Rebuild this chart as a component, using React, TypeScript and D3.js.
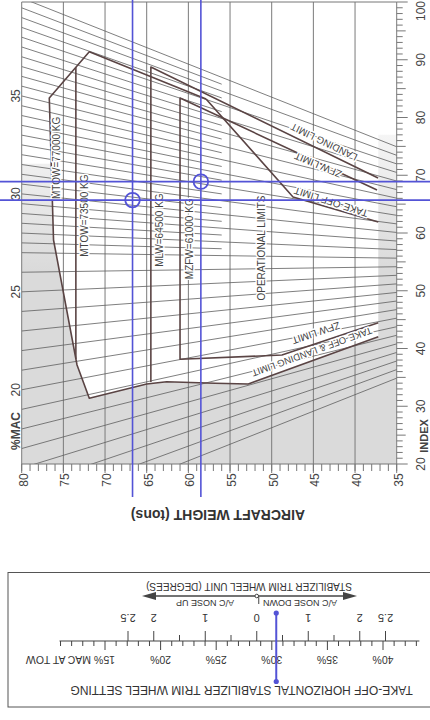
import React from "react";
import * as d3 from "d3";

// ---------- data ----------
const WEIGHT_GRID = [80, 75, 70, 65, 60, 55, 50, 45, 40, 35];
const INDEX_LABELS = [20, 30, 40, 50, 60, 70, 80, 90, 100];
const MAC_LABELS = [35, 30, 25, 20];
const MAC_LINES = [13, 14, 15, 16, 17, 18, 19, 20, 21, 22, 23, 24, 25, 26, 27, 28, 29, 30, 31, 32, 33, 34, 35, 36, 37, 38, 39, 40];
const MAC_HALF_LINES = [27.5, 28.5, 29.5, 30.5, 31.5, 32.5, 33.5, 34.5, 35.5, 36.5, 37.5, 38.5, 39.5];
const HALF_LINE_END_WEIGHT = 56;

// envelope polylines as [weight (t), index]
const OUTER_ENVELOPE: [number, number][] = [
  [57.88, 83.2], [71.89, 91.39], [76.69, 83.38], [76.18, 58.79], [73.36, 37.14],
  [71.89, 31.38], [65.0, 33.85], [62.6, 34.25], [56.8, 33.97], [52.81, 33.85], [37.21, 42.04],
];
const TAKEOFF_LIMIT: [number, number][] = [[57.88, 83.2], [47.44, 66.23], [37.21, 61.9]];
const LANDING_LIMIT: [number, number][] = [[64.5, 34.2], [64.5, 88.74], [37.24, 69.52]];
const ZFW_LIMIT: [number, number][] = [[37.21, 44.47], [48.77, 38.87], [61, 38.13], [61, 83.38], [37.36, 67.45]];
const MTOW2_LINE: [number, number][] = [[73.5, 88.7], [73.5, 38.2]];
const SHADE_AREA: [number, number][] = [
  [80, 72], [76.5, 72], [76.18, 58.79], [73.36, 37.14], [71.89, 31.38], [65.0, 33.85],
  [62.6, 34.25], [56.8, 33.97], [52.81, 33.85], [37.21, 42.04], [37.21, 77], [35, 77], [35, 20], [80, 20],
];

// plotted check points (blue)
const CHECK_WEIGHTS = [66.7, 58.5];
const CHECK_INDEXES = [68.9, 65.7];
const CHECK_POINTS: [number, number][] = [[66.7, 65.7], [58.5, 68.9]];
const TRIM_MAC_AT_TOW = 30.4;

// trim scale
const MAC_SCALE_TICKS = [11, 12, 13, 14, 15, 16, 17, 18, 19, 20, 21, 22, 23, 24, 25, 26, 27, 28, 29, 30, 31, 32, 33, 34, 35, 36, 37, 38, 39, 40, 41, 42, 43];
const MAC_SCALE_LABELS = [20, 25, 30, 35, 40];
const TRIM_TICKS = [2.5, 2, 1.5, 1, 0.5, 0, -0.5, -1, -1.5, -2, -2.5];
const TRIM_LABELS = [2.5, 2, 1, 0, -1, -2, -2.5];

// chart geometry of %MAC lines: index = I0 + K * W * (mac - MAC0)
const I0 = 54.9;
const K = 0.0424;
const MAC0 = 26.5;
const macIndex = (w: number, c: number) => I0 + K * w * (c - MAC0);

const FONT = "'Liberation Sans', Arial, sans-serif";
const ENV = "#5a4444";
const BLUE = "#5353d6";
const TXT = "#444";

export default function App() {
  const x = d3.scaleLinear().domain([80, 35]).range([21.7, 396.7]);
  const y = d3.scaleLinear().domain([20, 100]).range([464, 2]);
  const line = d3.line<[number, number]>().x((d) => x(d[0])).y((d) => y(d[1]));

  const macX = d3.scaleLinear().domain([15, 40]).range([105, 383]);
  const trimX = d3.scaleLinear().domain([2.5, -2.5]).range([128, 385.5]);

  const x0 = x(80), x1 = x(35), yTop = y(100), yBot = y(20);
  const weightTicks = d3.range(35, 81);
  const indexTicks = d3.range(20, 101);

  const halo = { paintOrder: "stroke" as const, stroke: "#fff", strokeWidth: 3, strokeLinejoin: "round" as const };

  const slantLabel = (text: string, cx: number, cy: number, ang: number, fs = 10) => (
    <text
      key={text + cx}
      transform={`translate(${cx},${cy}) rotate(${ang + 180})`}
      textAnchor="middle"
      dominantBaseline="central"
      fontSize={fs}
      fill={TXT}
      style={halo}
    >
      {text}
    </text>
  );
  const vLabel = (text: string, cx: number, cy: number, fs = 10) => (
    <text
      key={text}
      transform={`translate(${cx},${cy}) rotate(-90)`}
      textAnchor="middle"
      dominantBaseline="central"
      fontSize={fs}
      fill={TXT}
      style={halo}
    >
      {text}
    </text>
  );

  const scaleY = 641;

  return (
    <svg width={430} height={720} style={{ position: "absolute", left: 0, top: 0, background: "#fff" }} fontFamily={FONT}>
      <defs>
        <clipPath id="plot">
          <rect x={x0} y={yTop} width={x1 - x0} height={yBot - yTop} />
        </clipPath>
        <linearGradient id="shade" gradientUnits="userSpaceOnUse" x1={0} y1={130} x2={0} y2={270}>
          <stop offset="0" stopColor="#f6f6f6" />
          <stop offset="1" stopColor="#dadada" />
        </linearGradient>
      </defs>
      <rect x={0} y={0} width={430} height={720} fill="#fff" />

      {/* shading */}
      <path d={line(SHADE_AREA) + "Z"} fill="url(#shade)" stroke="none" clipPath="url(#plot)" />

      {/* vertical weight grid */}
      {WEIGHT_GRID.map((w) => (
        <line key={"g" + w} x1={x(w)} x2={x(w)} y1={yTop} y2={yBot + 9} stroke="#7a7a7a" strokeWidth={1} />
      ))}
      {/* weight minor ticks */}
      {weightTicks.map((w) => (
        <line key={"wt" + w} x1={x(w)} x2={x(w)} y1={yBot} y2={yBot + 7} stroke="#777" strokeWidth={1} />
      ))}
      {/* index ticks on right */}
      {indexTicks.map((i) => (
        <line
          key={"it" + i}
          x1={x1}
          x2={x1 + (i % 10 === 0 ? 11 : i % 5 === 0 ? 9 : 6)}
          y1={y(i)}
          y2={y(i)}
          stroke="#777"
          strokeWidth={1}
        />
      ))}

      {/* %MAC lines */}
      <g clipPath="url(#plot)" stroke="#5e5e5e" strokeWidth={0.8} fill="none">
        {MAC_LINES.map((c) => (
          <path key={"m" + c} d={line([[80, macIndex(80, c)], [35, macIndex(35, c)]])!} />
        ))}
        {MAC_HALF_LINES.map((c) => (
          <path key={"h" + c} d={line([[80, macIndex(80, c)], [HALF_LINE_END_WEIGHT, macIndex(HALF_LINE_END_WEIGHT, c)]])!} />
        ))}
      </g>

      {/* plot border */}
      <line x1={x0} x2={x1} y1={yTop} y2={yTop} stroke="#777" />
      <line x1={x0} x2={x1} y1={yBot} y2={yBot} stroke="#777" />

      {/* envelopes */}
      <g fill="none" stroke={ENV} strokeWidth={1.6} strokeLinejoin="round">
        <path d={line(OUTER_ENVELOPE)!} />
        <path d={line(TAKEOFF_LIMIT)!} />
        <path d={line(LANDING_LIMIT)!} />
        <path d={line(ZFW_LIMIT)!} />
        <path d={line(MTOW2_LINE)!} />
      </g>

      {/* envelope labels */}
      {vLabel("MTOW=77000 KG", x(77) + 10, y(73))}
      {vLabel("MTOW=73500 KG", x(73.5) + 9, y(63))}
      {vLabel("MLW=64500 KG", x(64.5) + 9, y(60.5))}
      {vLabel("MZFW=61000 KG", x(61) + 9, y(59))}
      {vLabel("OPERATIONAL LIMITS", x(51.2), y(57.4))}
      {slantLabel("LANDING LIMIT", 324, 142, 26)}
      {slantLabel("ZFW LIMIT", 318, 165, 23)}
      {slantLabel("TAKE-OFF LIMIT", 331, 202, 18)}
      {slantLabel("ZFW LIMIT", 316, 333, -18.5)}
      {slantLabel("TAKE-OFF & LANDING LIMIT", 312, 352, -20, 9.5)}

      {/* %MAC labels on left */}
      {MAC_LABELS.map((c) => (
        <text
          key={"ml" + c}
          transform={`translate(16,${y(macIndex(80, c))}) rotate(-90)`}
          textAnchor="middle"
          dominantBaseline="central"
          fontSize={12}
          fill={TXT}
        >
          {c}
        </text>
      ))}
      <text transform={`translate(16,431) rotate(-90)`} textAnchor="middle" dominantBaseline="central" fontSize={12} fontWeight="bold" fill={TXT}>
        %MAC
      </text>

      {/* index labels */}
      {INDEX_LABELS.map((i) => (
        <text
          key={"il" + i}
          transform={`translate(421,${Math.max(y(i), 11)}) rotate(-90)`}
          textAnchor="middle"
          dominantBaseline="central"
          fontSize={12}
          fill={TXT}
        >
          {i}
        </text>
      ))}
      <text transform={`translate(424,436) rotate(-90)`} textAnchor="middle" dominantBaseline="central" fontSize={11} fontWeight="bold" fill={TXT}>
        INDEX
      </text>

      {/* weight labels */}
      {WEIGHT_GRID.map((w) => (
        <text
          key={"wl" + w}
          transform={`translate(${x(w) + 2},480) rotate(-90)`}
          textAnchor="middle"
          dominantBaseline="central"
          fontSize={12}
          fill={TXT}
        >
          {w}
        </text>
      ))}
      <text transform="translate(218,515) rotate(180)" textAnchor="middle" dominantBaseline="central" fontSize={14} fontWeight="bold" fill="#333">
        AIRCRAFT WEIGHT (tons)
      </text>

      {/* trim box */}
      <rect x={8} y={572.5} width={440} height={134.5} fill="none" stroke="#555" strokeWidth={1} />
      <text transform="translate(249,586) rotate(180)" textAnchor="middle" dominantBaseline="central" fontSize={10} fill="#333">
        STABILIZER TRIM WHEEL UNIT (DEGREES)
      </text>
      <line x1={150} x2={350} y1={596} y2={596} stroke="#444" strokeWidth={1.3} />
      <path d="M142,596 L156,592 L156,600 Z" fill="#444" />
      <path d="M357,596 L343,592 L343,600 Z" fill="#444" />
      <circle cx={trimX(0)} cy={596} r={1.8} fill="#fff" stroke="#444" strokeWidth={1} />
      <line x1={trimX(0) + 2} x2={trimX(0) + 2} y1={597} y2={604} stroke="#444" strokeWidth={1} />
      <text transform="translate(205,603) rotate(180)" textAnchor="middle" dominantBaseline="central" fontSize={9} fill="#333">
        A/C NOSE UP
      </text>
      <text transform="translate(300,603) rotate(180)" textAnchor="middle" dominantBaseline="central" fontSize={9} fill="#333">
        A/C NOSE DOWN
      </text>
      {TRIM_LABELS.map((t) => (
        <text
          key={"tl" + t}
          transform={`translate(${trimX(t)},618) rotate(180)`}
          textAnchor="middle"
          dominantBaseline="central"
          fontSize={11}
          fill="#333"
        >
          {String(Math.abs(t))}
        </text>
      ))}
      <line x1={macX(11) - 1} x2={macX(43) + 3} y1={scaleY} y2={scaleY} stroke="#444" strokeWidth={1.2} />
      {TRIM_TICKS.map((t) => (
        <line
          key={"tt" + t}
          x1={trimX(t)}
          x2={trimX(t)}
          y1={scaleY}
          y2={scaleY - (Number.isInteger(t) || Math.abs(t) === 2.5 ? 10 : 6)}
          stroke="#444"
          strokeWidth={1}
        />
      ))}
      {MAC_SCALE_TICKS.map((m) => (
        <line
          key={"mt" + m}
          x1={macX(m)}
          x2={macX(m)}
          y1={scaleY}
          y2={scaleY + (m % 5 === 0 ? 9 : 5)}
          stroke="#444"
          strokeWidth={1}
        />
      ))}
      {MAC_SCALE_LABELS.map((m) => (
        <text
          key={"msl" + m}
          transform={`translate(${macX(m)},660) rotate(180)`}
          textAnchor="middle"
          dominantBaseline="central"
          fontSize={10.5}
          fill="#333"
        >
          {m + "%"}
        </text>
      ))}
      <text transform={`translate(${macX(15) + 10},660) rotate(180)`} textAnchor="start" dominantBaseline="central" fontSize={10.5} fill="#333">
        15% MAC AT TOW
      </text>
      <text transform="translate(241.5,690) rotate(180)" textAnchor="middle" dominantBaseline="central" fontSize={12} fill="#333">
        TAKE-OFF HORIZONTAL STABILIZER TRIM WHEEL SETTING
      </text>

      {/* blue construction lines */}
      <g stroke={BLUE} strokeWidth={1.6} fill="none">
        {CHECK_WEIGHTS.map((w) => (
          <line key={"bv" + w} x1={x(w)} x2={x(w)} y1={0} y2={497} />
        ))}
        {CHECK_INDEXES.map((i) => (
          <line key={"bh" + i} x1={0} x2={430} y1={y(i)} y2={y(i)} />
        ))}
        {CHECK_POINTS.map((p, k) => (
          <circle key={"bc" + k} cx={x(p[0])} cy={y(p[1])} r={7.3} strokeWidth={1.8} />
        ))}
        <line x1={macX(TRIM_MAC_AT_TOW)} x2={macX(TRIM_MAC_AT_TOW)} y1={613} y2={681.5} strokeWidth={2} />
      </g>
      <circle cx={macX(TRIM_MAC_AT_TOW)} cy={613} r={2.6} fill={BLUE} />
      <circle cx={macX(TRIM_MAC_AT_TOW)} cy={681.5} r={2.6} fill={BLUE} />
    </svg>
  );
}
